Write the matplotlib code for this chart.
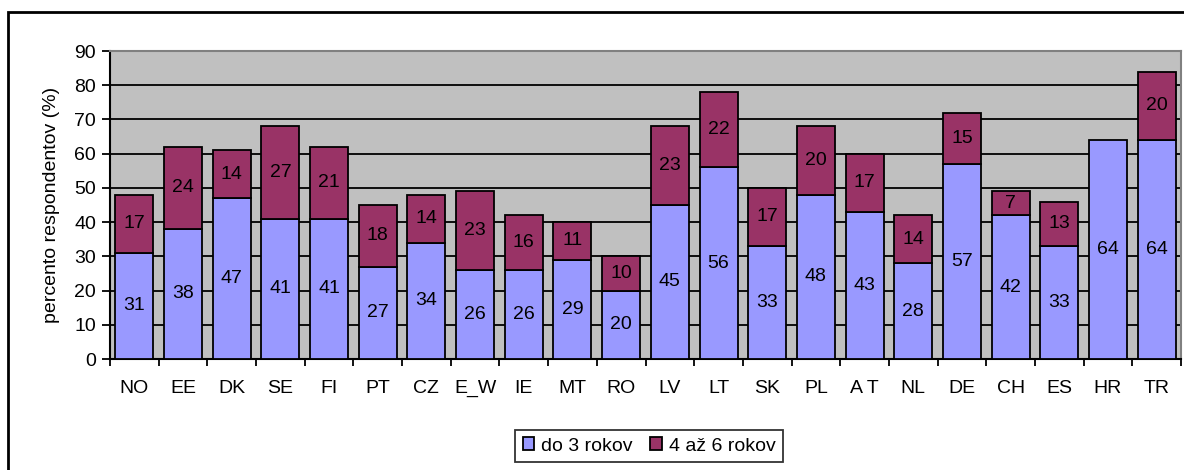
import numpy as np
import matplotlib.pyplot as plt
from matplotlib.patches import Rectangle

plt.rcParams['font.family'] = ['Liberation Sans', 'DejaVu Sans']

# data
countries = ['NO', 'EE', 'DK', 'SE', 'FI', 'PT', 'CZ', 'E_W', 'IE', 'MT', 'RO',
             'LV', 'LT', 'SK', 'PL', 'A T', 'NL', 'DE', 'CH', 'ES', 'HR', 'TR']
do3 = [31, 38, 47, 41, 41, 27, 34, 26, 26, 29, 20, 45, 56, 33, 48, 43, 28, 57, 42, 33, 64, 64]
az6 = [17, 24, 14, 27, 21, 18, 14, 23, 16, 11, 10, 23, 22, 17, 20, 17, 14, 15, 7, 13, 0, 20]
series_names = ['do 3 rokov', '4 až 6 rokov']

fs = 14

fig = plt.figure(figsize=(11.84, 4.70), dpi=100)
# outer chart frame (cut at right/bottom like the reference)
fig.patches.append(Rectangle((8 / 1184, -0.05), 1.2, (470 - 12) / 470 + 0.05,
                             transform=fig.transFigure, fill=False,
                             edgecolor='black', linewidth=2))

ax = fig.add_axes([110 / 1184, 1 - 359 / 470, (1181 - 110) / 1184, (359 - 51) / 470])
ax.set_facecolor('#C0C0C0')

x = np.arange(len(countries))
w = 0.78
b1 = ax.bar(x, do3, w, color='#9999FF', edgecolor='black', linewidth=1.3,
            label=series_names[0], zorder=3)
b2 = ax.bar(x, az6, w, bottom=do3, color='#993366', edgecolor='black', linewidth=1.3,
            label=series_names[1], zorder=3)
b2[countries.index('HR')].set_visible(False)

for i in range(len(countries)):
    ax.text(x[i], do3[i] / 2, str(do3[i]), ha='center', va='center', fontsize=fs, zorder=4)
    if az6[i]:
        ax.text(x[i], do3[i] + az6[i] / 2, str(az6[i]), ha='center', va='center',
                fontsize=fs, zorder=4)

ax.set_xlim(-0.5, len(countries) - 0.5)
ax.set_ylim(0, 90)
ax.set_yticks(range(0, 91, 10))
ax.yaxis.grid(True, color='black', linewidth=1.3, zorder=1)
ax.set_axisbelow(True)

ax.set_xticks(x)
ax.set_xticklabels(countries, fontsize=fs)
ax.set_xticks(np.arange(-0.5, len(countries), 1), minor=True)
ax.tick_params(axis='x', which='major', length=0, pad=15)
ax.tick_params(axis='x', which='minor', length=5, width=1.3, direction='out')
ax.tick_params(axis='y', length=6, width=1.3, labelsize=fs, pad=4)
ax.set_ylabel('percento respondentov (%)', fontsize=fs, labelpad=10)

for s in ['top', 'right']:
    ax.spines[s].set_color('#808080')
    ax.spines[s].set_linewidth(1.5)
for s in ['left', 'bottom']:
    ax.spines[s].set_color('black')
    ax.spines[s].set_linewidth(1.5)

leg = fig.legend(handles=[b1, b2], loc='center', bbox_to_anchor=(649 / 1184, 1 - 446 / 470),
                 ncol=2, fontsize=fs, frameon=True, fancybox=False, edgecolor='black',
                 handlelength=0.6, handleheight=0.6, handletextpad=0.35, columnspacing=0.9,
                 borderpad=0.4)
leg.get_frame().set_linewidth(1.3)

fig.savefig('out.png', dpi=100)
